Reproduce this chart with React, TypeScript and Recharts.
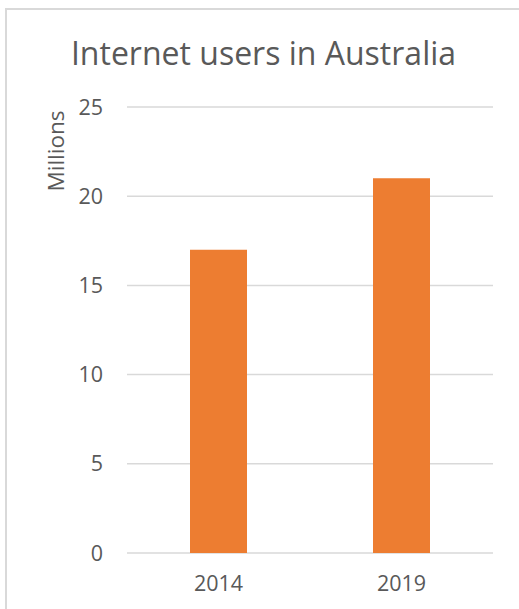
import React from 'react';
import { BarChart, Bar, XAxis, YAxis, CartesianGrid } from 'recharts';

const years = ['2014', '2019'];
const users = [17, 21];
const yTicks = [0, 5, 10, 15, 20, 25];

const data = years.map((year, i) => ({ year, users: users[i] }));

const FONT = '"Open Sans", sans-serif';
const TEXT = '#595959';

const App: React.FC = () => {
  return (
    <div
      style={{
        position: 'absolute', left: 0, top: 0, width: 519, height: 609,
        overflow: 'hidden', background: '#ffffff', fontFamily: FONT,
      }}
    >
      {/* chart area frame, only the top and left edges are in view */}
      <div
        style={{
          position: 'absolute', left: 5, top: 8, width: 700, height: 800,
          borderTop: '2px solid #d9d9d9', borderLeft: '2px solid #d9d9d9',
        }}
      />
      <div
        style={{
          position: 'absolute', left: 0, top: 31, width: 527, textAlign: 'center',
          fontSize: 32, color: TEXT, lineHeight: '44px',
        }}
      >
        Internet users in Australia
      </div>
      <div style={{ position: 'absolute', left: 0, top: 0 }}>
        <BarChart
          width={519}
          height={609}
          data={data}
          margin={{ top: 107, right: 26, left: 0, bottom: 0 }}
        >
          <CartesianGrid vertical={false} stroke="#d9d9d9" strokeWidth={1.5} />
          <XAxis
            dataKey="year"
            height={56}
            axisLine={false}
            tickLine={false}
            tickSize={0}
            tickMargin={23}
            tick={{ fill: TEXT, fontSize: 21.5, fontFamily: FONT }}
          />
          <YAxis
            width={127}
            domain={[0, 25]}
            ticks={yTicks}
            axisLine={false}
            tickLine={false}
            tickSize={0}
            tickMargin={24}
            tick={{ fill: TEXT, fontSize: 21.5, fontFamily: FONT }}
            label={{
              content: () => (
                <text
                  x={55}
                  y={151}
                  transform="rotate(-90 55 151)"
                  textAnchor="middle"
                  dominantBaseline="central"
                  fill={TEXT}
                  fontSize={22.5}
                  fontFamily={FONT}
                >
                  Millions
                </text>
              ),
            }}
          />
          <Bar dataKey="users" fill="#ED7D31" barSize={57} isAnimationActive={false} />
        </BarChart>
      </div>
    </div>
  );
};

export default App;
